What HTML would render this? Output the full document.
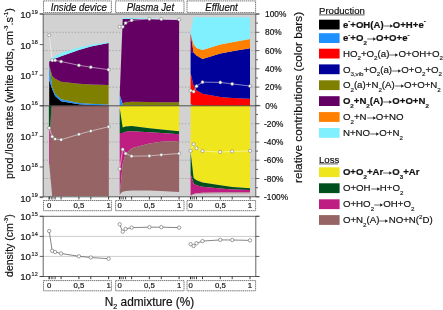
<!DOCTYPE html>
<html><head><meta charset="utf-8"><title>chart</title>
<style>
html,body{margin:0;padding:0;background:#fff;}
body{width:443px;height:310px;overflow:hidden;position:relative;font-family:"Liberation Sans", sans-serif;}
#wrap{position:absolute;left:0;top:0;width:443px;height:310px;will-change:transform;transform:translateZ(0);}
svg.main{display:block;position:absolute;left:0;top:0;}
.lg{position:absolute;white-space:nowrap;font-size:9.7px;line-height:12px;height:12px;color:#111;-webkit-text-stroke:0.18px #111;}
.lg.b{font-weight:bold;font-size:9.6px;}
.lg sub{font-size:6.2px;vertical-align:baseline;position:relative;top:3.6px;line-height:0;color:#333;}
.lg sup{font-size:6.2px;vertical-align:baseline;position:relative;top:-4.4px;line-height:0;color:#333;}
.lg svg.ar{display:inline-block;vertical-align:baseline;position:relative;top:1.0px;margin:0;}
</style>
</head><body>
<div id="wrap">
<svg class="main" width="443" height="310" viewBox="0 0 443 310" font-family='"Liberation Sans", sans-serif'>
<rect x="0" y="0" width="443" height="310" fill="#fff"/>
<rect x="43.2" y="14.0" width="212.6" height="182.8" fill="#D2D2D2"/>
<line x1="43.2" y1="32.3" x2="255.8" y2="32.3" stroke="#a0a0a0" stroke-width="0.8" stroke-dasharray="1.5,1.65"/>
<line x1="43.2" y1="50.6" x2="255.8" y2="50.6" stroke="#a0a0a0" stroke-width="0.8" stroke-dasharray="1.5,1.65"/>
<line x1="43.2" y1="68.8" x2="255.8" y2="68.8" stroke="#a0a0a0" stroke-width="0.8" stroke-dasharray="1.5,1.65"/>
<line x1="43.2" y1="87.1" x2="255.8" y2="87.1" stroke="#a0a0a0" stroke-width="0.8" stroke-dasharray="1.5,1.65"/>
<line x1="43.2" y1="123.7" x2="255.8" y2="123.7" stroke="#a0a0a0" stroke-width="0.8" stroke-dasharray="1.5,1.65"/>
<line x1="43.2" y1="142.0" x2="255.8" y2="142.0" stroke="#a0a0a0" stroke-width="0.8" stroke-dasharray="1.5,1.65"/>
<line x1="43.2" y1="160.2" x2="255.8" y2="160.2" stroke="#a0a0a0" stroke-width="0.8" stroke-dasharray="1.5,1.65"/>
<line x1="43.2" y1="178.5" x2="255.8" y2="178.5" stroke="#a0a0a0" stroke-width="0.8" stroke-dasharray="1.5,1.65"/>
<polygon points="49.2,80.0 52.2,89.0 55.1,96.0 61.1,101.3 78.9,104.3 90.8,104.9 108.6,105.4 108.6,105.8 90.8,105.8 78.9,105.8 61.1,105.8 55.1,105.8 52.2,105.8 49.2,105.8" fill="#000000"/>
<polygon points="49.2,65.5 52.2,86.6 55.1,93.8 61.1,99.2 78.9,102.9 90.8,103.8 108.6,104.6 108.6,105.4 90.8,104.9 78.9,104.3 61.1,101.3 55.1,96.0 52.2,89.0 49.2,80.0" fill="#1E90FF"/>
<polygon points="49.2,65.5 52.2,75.8 55.1,78.8 61.1,81.8 78.9,83.8 90.8,84.4 108.6,85.0 108.6,104.6 90.8,103.8 78.9,102.9 61.1,99.2 55.1,93.8 52.2,86.6 49.2,65.5" fill="#808000"/>
<polygon points="49.2,61.6 52.2,59.8 55.1,58.4 61.1,56.2 78.9,50.0 90.8,46.5 108.6,43.0 108.6,85.0 90.8,84.4 78.9,83.8 61.1,81.8 55.1,78.8 52.2,75.8 49.2,65.5" fill="#640064"/>
<polygon points="49.2,61.0 52.2,58.0 55.1,56.0 61.1,53.0 78.9,47.4 90.8,44.8 108.6,42.3 108.6,43.0 90.8,46.5 78.9,50.0 61.1,56.2 55.1,58.4 52.2,59.8 49.2,61.6" fill="#80F0FF"/>
<polygon points="49.2,105.8 52.2,105.8 52.2,196.0 108.6,196.0 108.6,105.8" fill="#966464"/>
<polygon points="49.2,164.0 52.2,196.0 108.6,196.0 108.6,105.8 51.4,105.8 50.2,128.0" fill="#966464"/>
<polygon points="48.9,105.8 51.6,105.8 50.2,128.0 48.9,128.0" fill="#00501E"/>
<polygon points="49.2,128.0 50.2,128.0 49.8,164.0 49.2,164.0" fill="#BE1E82"/>
<polygon points="119.7,94.8 122.7,104.9 125.6,105.2 131.6,105.3 149.4,105.4 161.3,105.4 179.1,105.4 179.1,105.8 161.3,105.8 149.4,105.8 131.6,105.8 125.6,105.8 122.7,105.8 119.7,105.8" fill="#1E90FF"/>
<polygon points="119.7,94.8 122.7,103.5 125.6,102.3 131.6,101.8 149.4,102.0 161.3,102.2 179.1,102.3 179.1,105.4 161.3,105.4 149.4,105.4 131.6,105.3 125.6,105.2 122.7,104.9 119.7,94.8" fill="#808000"/>
<polygon points="119.7,94.8 122.7,18.9 125.6,18.9 131.6,18.9 149.4,19.0 161.3,19.3 179.1,19.8 179.1,102.3 161.3,102.2 149.4,102.0 131.6,101.8 125.6,102.3 122.7,103.5 119.7,94.8" fill="#640064"/>
<polygon points="119.7,94.8 122.7,17.9 125.6,17.9 131.6,17.9 149.4,18.2 161.3,19.0 179.1,19.8 179.1,19.8 161.3,19.3 149.4,19.0 131.6,18.9 125.6,18.9 122.7,18.9 119.7,94.8" fill="#80F0FF"/>
<polygon points="119.7,108.0 121.2,118.0 122.7,127.5 125.6,126.6 131.6,126.1 149.4,128.2 161.3,129.4 179.1,131.2 179.1,105.8 161.3,105.8 149.4,105.8 131.6,105.8 125.6,105.8 122.7,105.8 121.2,105.8 119.7,105.8" fill="#F0E61E"/>
<polygon points="119.7,133.0 121.2,133.0 122.7,133.0 125.6,131.8 131.6,131.2 149.4,132.3 161.3,133.0 179.1,134.2 179.1,131.2 161.3,129.4 149.4,128.2 131.6,126.1 125.6,126.6 122.7,127.5 121.2,118.0 119.7,108.0" fill="#00501E"/>
<polygon points="119.7,192.5 121.2,180.0 122.7,163.5 125.6,153.9 131.6,148.2 149.4,143.6 161.3,141.8 179.1,141.0 179.1,134.2 161.3,133.0 149.4,132.3 131.6,131.2 125.6,131.8 122.7,133.0 121.2,133.0 119.7,133.0" fill="#BE1E82"/>
<polygon points="119.7,194.7 121.2,192.8 122.7,191.8 125.6,190.9 131.6,190.5 149.4,190.5 161.3,191.0 179.1,192.0 179.1,141.0 161.3,141.8 149.4,143.6 131.6,148.2 125.6,153.9 122.7,163.5 121.2,180.0 119.7,192.5" fill="#966464"/>
<polygon points="190.6,104.0 193.6,105.4 196.5,105.6 202.5,105.7 220.3,105.7 232.2,105.7 250.0,105.7 250.0,105.8 232.2,105.8 220.3,105.8 202.5,105.8 196.5,105.8 193.6,105.8 190.6,105.8" fill="#1E90FF"/>
<polygon points="190.6,73.0 193.6,85.7 196.5,90.2 202.5,93.8 220.3,96.9 232.2,98.0 250.0,98.7 250.0,105.7 232.2,105.7 220.3,105.7 202.5,105.7 196.5,105.6 193.6,105.4 190.6,104.0" fill="#FF0000"/>
<polygon points="190.6,52.0 193.6,52.4 196.5,55.5 202.5,59.0 220.3,53.6 232.2,51.3 250.0,48.3 250.0,98.7 232.2,98.0 220.3,96.9 202.5,93.8 196.5,90.2 193.6,85.7 190.6,73.0" fill="#00009B"/>
<polygon points="190.6,33.6 193.6,52.4 196.5,55.5 202.5,59.0 220.3,53.6 232.2,51.3 250.0,48.3 250.0,48.3 232.2,51.3 220.3,53.6 202.5,59.0 196.5,55.5 193.6,52.4 190.6,52.0" fill="#640064"/>
<polygon points="190.6,33.0 193.6,44.3 196.5,48.0 202.5,50.0 220.3,44.6 232.2,42.2 250.0,38.9 250.0,48.3 232.2,51.3 220.3,53.6 202.5,59.0 196.5,55.5 193.6,52.4 190.6,33.6" fill="#FF8000"/>
<polygon points="190.6,32.6 193.6,17.2 196.5,17.2 202.5,17.2 220.3,17.2 232.2,17.2 250.0,17.2 250.0,38.9 232.2,42.2 220.3,44.6 202.5,50.0 196.5,48.0 193.6,44.3 190.6,33.0" fill="#80F0FF"/>
<polygon points="190.6,152.0 193.6,178.0 196.5,180.2 202.5,182.4 220.3,185.2 232.2,187.0 250.0,188.3 250.0,105.8 232.2,105.8 220.3,105.8 202.5,105.8 196.5,105.8 193.6,105.8 190.6,105.8" fill="#F0E61E"/>
<polygon points="190.6,174.0 193.6,183.5 196.5,185.2 202.5,186.8 220.3,188.4 232.2,189.4 250.0,190.0 250.0,188.3 232.2,187.0 220.3,185.2 202.5,182.4 196.5,180.2 193.6,178.0 190.6,152.0" fill="#00501E"/>
<polygon points="190.6,195.6 193.6,194.0 196.5,193.2 202.5,192.7 220.3,192.5 232.2,192.4 250.0,192.4 250.0,190.0 232.2,189.4 220.3,188.4 202.5,186.8 196.5,185.2 193.6,183.5 190.6,174.0" fill="#BE1E82"/>
<polygon points="190.6,195.6 193.6,194.6 196.5,194.1 202.5,193.7 220.3,193.5 232.2,193.4 250.0,193.4 250.0,192.4 232.2,192.4 220.3,192.5 202.5,192.7 196.5,193.2 193.6,194.0 190.6,195.6" fill="#b89a9a"/>
<line x1="39.7" y1="105.8" x2="260.4" y2="105.8" stroke="#303030" stroke-width="0.8"/>
<polyline points="49.2,35.2 52.2,60.3 55.1,60.3 61.1,61.5 78.9,65.3 90.8,67.2 108.6,69.7" fill="none" stroke="#ffffff" stroke-width="0.6" stroke-opacity="0.85"/>
<circle cx="49.2" cy="35.2" r="1.6" fill="#ffffff" stroke="#666666" stroke-width="0.5"/>
<circle cx="52.2" cy="60.3" r="1.6" fill="#ffffff" stroke="#666666" stroke-width="0.5"/>
<circle cx="55.1" cy="60.3" r="1.6" fill="#ffffff" stroke="#666666" stroke-width="0.5"/>
<circle cx="61.1" cy="61.5" r="1.6" fill="#ffffff" stroke="#666666" stroke-width="0.5"/>
<circle cx="78.9" cy="65.3" r="1.6" fill="#ffffff" stroke="#666666" stroke-width="0.5"/>
<circle cx="90.8" cy="67.2" r="1.6" fill="#ffffff" stroke="#666666" stroke-width="0.5"/>
<circle cx="108.6" cy="69.7" r="1.6" fill="#ffffff" stroke="#666666" stroke-width="0.5"/>
<polyline points="49.2,128.0 52.2,136.6 55.1,139.0 61.1,139.7 78.9,134.3 90.8,131.0 108.6,126.8" fill="none" stroke="#ffffff" stroke-width="0.6" stroke-opacity="0.85"/>
<circle cx="49.2" cy="128.0" r="1.6" fill="#ffffff" stroke="#666666" stroke-width="0.5"/>
<circle cx="52.2" cy="136.6" r="1.6" fill="#ffffff" stroke="#666666" stroke-width="0.5"/>
<circle cx="55.1" cy="139.0" r="1.6" fill="#ffffff" stroke="#666666" stroke-width="0.5"/>
<circle cx="61.1" cy="139.7" r="1.6" fill="#ffffff" stroke="#666666" stroke-width="0.5"/>
<circle cx="78.9" cy="134.3" r="1.6" fill="#ffffff" stroke="#666666" stroke-width="0.5"/>
<circle cx="90.8" cy="131.0" r="1.6" fill="#ffffff" stroke="#666666" stroke-width="0.5"/>
<circle cx="108.6" cy="126.8" r="1.6" fill="#ffffff" stroke="#666666" stroke-width="0.5"/>
<polyline points="119.7,26.8 122.7,26.8 125.6,23.0 131.6,20.3 149.4,18.9 161.3,19.1 179.1,19.6" fill="none" stroke="#ffffff" stroke-width="0.6" stroke-opacity="0.85"/>
<circle cx="119.7" cy="26.8" r="1.6" fill="#ffffff" stroke="#666666" stroke-width="0.5"/>
<circle cx="122.7" cy="26.8" r="1.6" fill="#ffffff" stroke="#666666" stroke-width="0.5"/>
<circle cx="125.6" cy="23.0" r="1.6" fill="#ffffff" stroke="#666666" stroke-width="0.5"/>
<circle cx="131.6" cy="20.3" r="1.6" fill="#ffffff" stroke="#666666" stroke-width="0.5"/>
<circle cx="149.4" cy="18.9" r="1.6" fill="#ffffff" stroke="#666666" stroke-width="0.5"/>
<circle cx="161.3" cy="19.1" r="1.6" fill="#ffffff" stroke="#666666" stroke-width="0.5"/>
<circle cx="179.1" cy="19.6" r="1.6" fill="#ffffff" stroke="#666666" stroke-width="0.5"/>
<polyline points="119.7,168.9 122.7,149.4 125.6,153.5 131.6,156.2 149.4,155.9 161.3,154.8 179.1,153.5" fill="none" stroke="#ffffff" stroke-width="0.6" stroke-opacity="0.85"/>
<circle cx="119.7" cy="168.9" r="1.6" fill="#ffffff" stroke="#666666" stroke-width="0.5"/>
<circle cx="122.7" cy="149.4" r="1.6" fill="#ffffff" stroke="#666666" stroke-width="0.5"/>
<circle cx="125.6" cy="153.5" r="1.6" fill="#ffffff" stroke="#666666" stroke-width="0.5"/>
<circle cx="131.6" cy="156.2" r="1.6" fill="#ffffff" stroke="#666666" stroke-width="0.5"/>
<circle cx="149.4" cy="155.9" r="1.6" fill="#ffffff" stroke="#666666" stroke-width="0.5"/>
<circle cx="161.3" cy="154.8" r="1.6" fill="#ffffff" stroke="#666666" stroke-width="0.5"/>
<circle cx="179.1" cy="153.5" r="1.6" fill="#ffffff" stroke="#666666" stroke-width="0.5"/>
<polyline points="190.6,90.6 193.6,91.6 196.5,86.2 202.5,82.1 220.3,82.4 232.2,83.9 250.0,86.0" fill="none" stroke="#ffffff" stroke-width="0.6" stroke-opacity="0.85"/>
<circle cx="190.6" cy="90.6" r="1.6" fill="#ffffff" stroke="#666666" stroke-width="0.5"/>
<circle cx="193.6" cy="91.6" r="1.6" fill="#ffffff" stroke="#666666" stroke-width="0.5"/>
<circle cx="196.5" cy="86.2" r="1.6" fill="#ffffff" stroke="#666666" stroke-width="0.5"/>
<circle cx="202.5" cy="82.1" r="1.6" fill="#ffffff" stroke="#666666" stroke-width="0.5"/>
<circle cx="220.3" cy="82.4" r="1.6" fill="#ffffff" stroke="#666666" stroke-width="0.5"/>
<circle cx="232.2" cy="83.9" r="1.6" fill="#ffffff" stroke="#666666" stroke-width="0.5"/>
<circle cx="250.0" cy="86.0" r="1.6" fill="#ffffff" stroke="#666666" stroke-width="0.5"/>
<polyline points="190.6,150.9 193.6,144.2 196.5,148.2 202.5,151.1 220.3,152.0 232.2,151.4 250.0,150.9" fill="none" stroke="#ffffff" stroke-width="0.6" stroke-opacity="0.85"/>
<circle cx="190.6" cy="150.9" r="1.6" fill="#ffffff" stroke="#666666" stroke-width="0.5"/>
<circle cx="193.6" cy="144.2" r="1.6" fill="#ffffff" stroke="#666666" stroke-width="0.5"/>
<circle cx="196.5" cy="148.2" r="1.6" fill="#ffffff" stroke="#666666" stroke-width="0.5"/>
<circle cx="202.5" cy="151.1" r="1.6" fill="#ffffff" stroke="#666666" stroke-width="0.5"/>
<circle cx="220.3" cy="152.0" r="1.6" fill="#ffffff" stroke="#666666" stroke-width="0.5"/>
<circle cx="232.2" cy="151.4" r="1.6" fill="#ffffff" stroke="#666666" stroke-width="0.5"/>
<circle cx="250.0" cy="150.9" r="1.6" fill="#ffffff" stroke="#666666" stroke-width="0.5"/>
<line x1="39.7" y1="14.0" x2="259.4" y2="14.0" stroke="#3c3c3c" stroke-width="0.8"/>
<line x1="39.7" y1="196.8" x2="259.4" y2="196.8" stroke="#3c3c3c" stroke-width="0.8"/>
<line x1="43.2" y1="14.0" x2="43.2" y2="196.8" stroke="#3c3c3c" stroke-width="0.8"/>
<line x1="255.8" y1="14.0" x2="255.8" y2="196.8" stroke="#3c3c3c" stroke-width="0.8"/>
<line x1="39.7" y1="14.0" x2="43.2" y2="14.0" stroke="#3c3c3c" stroke-width="0.8"/>
<line x1="39.7" y1="44.6" x2="43.2" y2="44.6" stroke="#3c3c3c" stroke-width="0.8"/>
<line x1="39.7" y1="75.2" x2="43.2" y2="75.2" stroke="#3c3c3c" stroke-width="0.8"/>
<line x1="39.7" y1="105.8" x2="43.2" y2="105.8" stroke="#3c3c3c" stroke-width="0.8"/>
<line x1="39.7" y1="136.4" x2="43.2" y2="136.4" stroke="#3c3c3c" stroke-width="0.8"/>
<line x1="39.7" y1="167.0" x2="43.2" y2="167.0" stroke="#3c3c3c" stroke-width="0.8"/>
<line x1="39.7" y1="197.6" x2="43.2" y2="197.6" stroke="#3c3c3c" stroke-width="0.8"/>
<line x1="255.8" y1="14.0" x2="259.4" y2="14.0" stroke="#3c3c3c" stroke-width="0.8"/>
<line x1="255.8" y1="32.3" x2="259.4" y2="32.3" stroke="#3c3c3c" stroke-width="0.8"/>
<line x1="255.8" y1="50.6" x2="259.4" y2="50.6" stroke="#3c3c3c" stroke-width="0.8"/>
<line x1="255.8" y1="68.8" x2="259.4" y2="68.8" stroke="#3c3c3c" stroke-width="0.8"/>
<line x1="255.8" y1="87.1" x2="259.4" y2="87.1" stroke="#3c3c3c" stroke-width="0.8"/>
<line x1="255.8" y1="105.4" x2="259.4" y2="105.4" stroke="#3c3c3c" stroke-width="0.8"/>
<line x1="255.8" y1="123.7" x2="259.4" y2="123.7" stroke="#3c3c3c" stroke-width="0.8"/>
<line x1="255.8" y1="142.0" x2="259.4" y2="142.0" stroke="#3c3c3c" stroke-width="0.8"/>
<line x1="255.8" y1="160.2" x2="259.4" y2="160.2" stroke="#3c3c3c" stroke-width="0.8"/>
<line x1="255.8" y1="178.5" x2="259.4" y2="178.5" stroke="#3c3c3c" stroke-width="0.8"/>
<line x1="255.8" y1="196.8" x2="259.4" y2="196.8" stroke="#3c3c3c" stroke-width="0.8"/>
<line x1="255.8" y1="23.1" x2="258.0" y2="23.1" stroke="#3c3c3c" stroke-width="0.8"/>
<line x1="255.8" y1="41.4" x2="258.0" y2="41.4" stroke="#3c3c3c" stroke-width="0.8"/>
<line x1="255.8" y1="59.7" x2="258.0" y2="59.7" stroke="#3c3c3c" stroke-width="0.8"/>
<line x1="255.8" y1="78.0" x2="258.0" y2="78.0" stroke="#3c3c3c" stroke-width="0.8"/>
<line x1="255.8" y1="96.3" x2="258.0" y2="96.3" stroke="#3c3c3c" stroke-width="0.8"/>
<line x1="255.8" y1="114.5" x2="258.0" y2="114.5" stroke="#3c3c3c" stroke-width="0.8"/>
<line x1="255.8" y1="132.8" x2="258.0" y2="132.8" stroke="#3c3c3c" stroke-width="0.8"/>
<line x1="255.8" y1="151.1" x2="258.0" y2="151.1" stroke="#3c3c3c" stroke-width="0.8"/>
<line x1="255.8" y1="169.4" x2="258.0" y2="169.4" stroke="#3c3c3c" stroke-width="0.8"/>
<line x1="255.8" y1="187.7" x2="258.0" y2="187.7" stroke="#3c3c3c" stroke-width="0.8"/>
<line x1="49.2" y1="196.8" x2="49.2" y2="199.5" stroke="#2a2a2a" stroke-width="1.3"/>
<line x1="51.3" y1="196.8" x2="51.3" y2="199.5" stroke="#2a2a2a" stroke-width="0.7"/>
<line x1="52.9" y1="196.8" x2="52.9" y2="199.5" stroke="#2a2a2a" stroke-width="0.7"/>
<line x1="55.1" y1="196.8" x2="55.1" y2="199.5" stroke="#2a2a2a" stroke-width="0.9"/>
<line x1="61.1" y1="196.8" x2="61.1" y2="199.5" stroke="#2a2a2a" stroke-width="0.9"/>
<line x1="78.9" y1="196.8" x2="78.9" y2="199.5" stroke="#2a2a2a" stroke-width="0.9"/>
<line x1="90.8" y1="196.8" x2="90.8" y2="199.5" stroke="#2a2a2a" stroke-width="0.9"/>
<line x1="108.6" y1="196.8" x2="108.6" y2="199.5" stroke="#2a2a2a" stroke-width="0.9"/>
<line x1="119.7" y1="196.8" x2="119.7" y2="199.5" stroke="#2a2a2a" stroke-width="1.3"/>
<line x1="121.8" y1="196.8" x2="121.8" y2="199.5" stroke="#2a2a2a" stroke-width="0.7"/>
<line x1="123.4" y1="196.8" x2="123.4" y2="199.5" stroke="#2a2a2a" stroke-width="0.7"/>
<line x1="125.6" y1="196.8" x2="125.6" y2="199.5" stroke="#2a2a2a" stroke-width="0.9"/>
<line x1="131.6" y1="196.8" x2="131.6" y2="199.5" stroke="#2a2a2a" stroke-width="0.9"/>
<line x1="149.4" y1="196.8" x2="149.4" y2="199.5" stroke="#2a2a2a" stroke-width="0.9"/>
<line x1="161.3" y1="196.8" x2="161.3" y2="199.5" stroke="#2a2a2a" stroke-width="0.9"/>
<line x1="179.1" y1="196.8" x2="179.1" y2="199.5" stroke="#2a2a2a" stroke-width="0.9"/>
<line x1="190.6" y1="196.8" x2="190.6" y2="199.5" stroke="#2a2a2a" stroke-width="1.3"/>
<line x1="192.7" y1="196.8" x2="192.7" y2="199.5" stroke="#2a2a2a" stroke-width="0.7"/>
<line x1="194.3" y1="196.8" x2="194.3" y2="199.5" stroke="#2a2a2a" stroke-width="0.7"/>
<line x1="196.5" y1="196.8" x2="196.5" y2="199.5" stroke="#2a2a2a" stroke-width="0.9"/>
<line x1="202.5" y1="196.8" x2="202.5" y2="199.5" stroke="#2a2a2a" stroke-width="0.9"/>
<line x1="220.3" y1="196.8" x2="220.3" y2="199.5" stroke="#2a2a2a" stroke-width="0.9"/>
<line x1="232.2" y1="196.8" x2="232.2" y2="199.5" stroke="#2a2a2a" stroke-width="0.9"/>
<line x1="250.0" y1="196.8" x2="250.0" y2="199.5" stroke="#2a2a2a" stroke-width="0.9"/>
<rect x="43.2" y="216.3" width="212.6" height="60.2" fill="#fff" stroke="none"/>
<line x1="43.2" y1="236.4" x2="255.8" y2="236.4" stroke="#b8b8b8" stroke-width="0.7"/>
<line x1="43.2" y1="256.4" x2="255.8" y2="256.4" stroke="#b8b8b8" stroke-width="0.7"/>
<line x1="39.7" y1="216.3" x2="259.4" y2="216.3" stroke="#3c3c3c" stroke-width="0.8"/>
<line x1="39.7" y1="276.5" x2="259.4" y2="276.5" stroke="#3c3c3c" stroke-width="0.8"/>
<line x1="43.2" y1="216.3" x2="43.2" y2="276.5" stroke="#3c3c3c" stroke-width="0.8"/>
<line x1="255.8" y1="216.3" x2="255.8" y2="276.5" stroke="#3c3c3c" stroke-width="0.8"/>
<line x1="39.7" y1="216.3" x2="43.2" y2="216.3" stroke="#3c3c3c" stroke-width="0.8"/>
<line x1="255.8" y1="216.3" x2="259.4" y2="216.3" stroke="#3c3c3c" stroke-width="0.8"/>
<line x1="39.7" y1="236.4" x2="43.2" y2="236.4" stroke="#3c3c3c" stroke-width="0.8"/>
<line x1="255.8" y1="236.4" x2="259.4" y2="236.4" stroke="#3c3c3c" stroke-width="0.8"/>
<line x1="39.7" y1="256.4" x2="43.2" y2="256.4" stroke="#3c3c3c" stroke-width="0.8"/>
<line x1="255.8" y1="256.4" x2="259.4" y2="256.4" stroke="#3c3c3c" stroke-width="0.8"/>
<line x1="39.7" y1="276.5" x2="43.2" y2="276.5" stroke="#3c3c3c" stroke-width="0.8"/>
<line x1="255.8" y1="276.5" x2="259.4" y2="276.5" stroke="#3c3c3c" stroke-width="0.8"/>
<line x1="49.2" y1="276.5" x2="49.2" y2="279.2" stroke="#2a2a2a" stroke-width="1.3"/>
<line x1="51.3" y1="276.5" x2="51.3" y2="279.2" stroke="#2a2a2a" stroke-width="0.7"/>
<line x1="52.9" y1="276.5" x2="52.9" y2="279.2" stroke="#2a2a2a" stroke-width="0.7"/>
<line x1="55.1" y1="276.5" x2="55.1" y2="279.2" stroke="#2a2a2a" stroke-width="0.9"/>
<line x1="61.1" y1="276.5" x2="61.1" y2="279.2" stroke="#2a2a2a" stroke-width="0.9"/>
<line x1="78.9" y1="276.5" x2="78.9" y2="279.2" stroke="#2a2a2a" stroke-width="0.9"/>
<line x1="90.8" y1="276.5" x2="90.8" y2="279.2" stroke="#2a2a2a" stroke-width="0.9"/>
<line x1="108.6" y1="276.5" x2="108.6" y2="279.2" stroke="#2a2a2a" stroke-width="0.9"/>
<line x1="119.7" y1="276.5" x2="119.7" y2="279.2" stroke="#2a2a2a" stroke-width="1.3"/>
<line x1="121.8" y1="276.5" x2="121.8" y2="279.2" stroke="#2a2a2a" stroke-width="0.7"/>
<line x1="123.4" y1="276.5" x2="123.4" y2="279.2" stroke="#2a2a2a" stroke-width="0.7"/>
<line x1="125.6" y1="276.5" x2="125.6" y2="279.2" stroke="#2a2a2a" stroke-width="0.9"/>
<line x1="131.6" y1="276.5" x2="131.6" y2="279.2" stroke="#2a2a2a" stroke-width="0.9"/>
<line x1="149.4" y1="276.5" x2="149.4" y2="279.2" stroke="#2a2a2a" stroke-width="0.9"/>
<line x1="161.3" y1="276.5" x2="161.3" y2="279.2" stroke="#2a2a2a" stroke-width="0.9"/>
<line x1="179.1" y1="276.5" x2="179.1" y2="279.2" stroke="#2a2a2a" stroke-width="0.9"/>
<line x1="190.6" y1="276.5" x2="190.6" y2="279.2" stroke="#2a2a2a" stroke-width="1.3"/>
<line x1="192.7" y1="276.5" x2="192.7" y2="279.2" stroke="#2a2a2a" stroke-width="0.7"/>
<line x1="194.3" y1="276.5" x2="194.3" y2="279.2" stroke="#2a2a2a" stroke-width="0.7"/>
<line x1="196.5" y1="276.5" x2="196.5" y2="279.2" stroke="#2a2a2a" stroke-width="0.9"/>
<line x1="202.5" y1="276.5" x2="202.5" y2="279.2" stroke="#2a2a2a" stroke-width="0.9"/>
<line x1="220.3" y1="276.5" x2="220.3" y2="279.2" stroke="#2a2a2a" stroke-width="0.9"/>
<line x1="232.2" y1="276.5" x2="232.2" y2="279.2" stroke="#2a2a2a" stroke-width="0.9"/>
<line x1="250.0" y1="276.5" x2="250.0" y2="279.2" stroke="#2a2a2a" stroke-width="0.9"/>
<polyline points="49.2,231.0 52.2,250.8 55.1,252.0 61.1,253.5 78.9,256.3 90.8,257.5 108.6,258.7" fill="none" stroke="#505050" stroke-width="0.7"/>
<circle cx="49.2" cy="231.0" r="1.7" fill="#ffffff" stroke="#606060" stroke-width="0.6"/>
<circle cx="52.2" cy="250.8" r="1.7" fill="#ffffff" stroke="#606060" stroke-width="0.6"/>
<circle cx="55.1" cy="252.0" r="1.7" fill="#ffffff" stroke="#606060" stroke-width="0.6"/>
<circle cx="61.1" cy="253.5" r="1.7" fill="#ffffff" stroke="#606060" stroke-width="0.6"/>
<circle cx="78.9" cy="256.3" r="1.7" fill="#ffffff" stroke="#606060" stroke-width="0.6"/>
<circle cx="90.8" cy="257.5" r="1.7" fill="#ffffff" stroke="#606060" stroke-width="0.6"/>
<circle cx="108.6" cy="258.7" r="1.7" fill="#ffffff" stroke="#606060" stroke-width="0.6"/>
<polyline points="119.7,224.3 122.7,231.7 125.6,229.0 131.6,227.6 149.4,227.2 161.3,227.2 179.1,227.6" fill="none" stroke="#505050" stroke-width="0.7"/>
<circle cx="119.7" cy="224.3" r="1.7" fill="#ffffff" stroke="#606060" stroke-width="0.6"/>
<circle cx="122.7" cy="231.7" r="1.7" fill="#ffffff" stroke="#606060" stroke-width="0.6"/>
<circle cx="125.6" cy="229.0" r="1.7" fill="#ffffff" stroke="#606060" stroke-width="0.6"/>
<circle cx="131.6" cy="227.6" r="1.7" fill="#ffffff" stroke="#606060" stroke-width="0.6"/>
<circle cx="149.4" cy="227.2" r="1.7" fill="#ffffff" stroke="#606060" stroke-width="0.6"/>
<circle cx="161.3" cy="227.2" r="1.7" fill="#ffffff" stroke="#606060" stroke-width="0.6"/>
<circle cx="179.1" cy="227.6" r="1.7" fill="#ffffff" stroke="#606060" stroke-width="0.6"/>
<polyline points="190.6,244.2 193.6,246.0 196.5,243.3 202.5,241.1 220.3,239.9 232.2,240.0 250.0,240.4" fill="none" stroke="#505050" stroke-width="0.7"/>
<circle cx="190.6" cy="244.2" r="1.7" fill="#ffffff" stroke="#606060" stroke-width="0.6"/>
<circle cx="193.6" cy="246.0" r="1.7" fill="#ffffff" stroke="#606060" stroke-width="0.6"/>
<circle cx="196.5" cy="243.3" r="1.7" fill="#ffffff" stroke="#606060" stroke-width="0.6"/>
<circle cx="202.5" cy="241.1" r="1.7" fill="#ffffff" stroke="#606060" stroke-width="0.6"/>
<circle cx="220.3" cy="239.9" r="1.7" fill="#ffffff" stroke="#606060" stroke-width="0.6"/>
<circle cx="232.2" cy="240.0" r="1.7" fill="#ffffff" stroke="#606060" stroke-width="0.6"/>
<circle cx="250.0" cy="240.4" r="1.7" fill="#ffffff" stroke="#606060" stroke-width="0.6"/>
<rect x="43.5" y="0.9" width="67.9" height="11.7" fill="#fff" stroke="#555" stroke-width="0.8" stroke-dasharray="1.5,0.6"/>
<g transform="translate(78.85,10.70) scale(0.960,1)"><text x="0" y="0" font-size="10.00" text-anchor="middle" fill="#111" stroke="#111" stroke-width="0.18" font-style="italic">Inside device</text></g>
<rect x="115.6" y="0.9" width="68.4" height="11.7" fill="#fff" stroke="#555" stroke-width="0.8" stroke-dasharray="1.5,0.6"/>
<g transform="translate(150.40,10.70) scale(0.960,1)"><text x="0" y="0" font-size="10.00" text-anchor="middle" fill="#111" stroke="#111" stroke-width="0.18" font-style="italic">Plasma Jet</text></g>
<rect x="187.0" y="0.9" width="68.6" height="11.7" fill="#fff" stroke="#555" stroke-width="0.8" stroke-dasharray="1.5,0.6"/>
<g transform="translate(221.50,10.70) scale(0.960,1)"><text x="0" y="0" font-size="10.00" text-anchor="middle" fill="#111" stroke="#111" stroke-width="0.18" font-style="italic">Effluent</text></g>
<rect x="43.5" y="200.5" width="67.9" height="10.2" fill="#fff" stroke="#555" stroke-width="0.8" stroke-dasharray="1.5,0.6"/>
<g transform="translate(49.20,208.20) scale(1.000,1)"><text x="0" y="0" font-size="7.80" text-anchor="middle" fill="#111" stroke="#111" stroke-width="0.18">0</text></g>
<g transform="translate(78.90,208.20) scale(1.000,1)"><text x="0" y="0" font-size="7.80" text-anchor="middle" fill="#111" stroke="#111" stroke-width="0.18">0,5</text></g>
<g transform="translate(108.60,208.20) scale(1.000,1)"><text x="0" y="0" font-size="7.80" text-anchor="middle" fill="#111" stroke="#111" stroke-width="0.18">1</text></g>
<rect x="115.6" y="200.5" width="68.4" height="10.2" fill="#fff" stroke="#555" stroke-width="0.8" stroke-dasharray="1.5,0.6"/>
<g transform="translate(119.70,208.20) scale(1.000,1)"><text x="0" y="0" font-size="7.80" text-anchor="middle" fill="#111" stroke="#111" stroke-width="0.18">0</text></g>
<g transform="translate(149.40,208.20) scale(1.000,1)"><text x="0" y="0" font-size="7.80" text-anchor="middle" fill="#111" stroke="#111" stroke-width="0.18">0,5</text></g>
<g transform="translate(179.10,208.20) scale(1.000,1)"><text x="0" y="0" font-size="7.80" text-anchor="middle" fill="#111" stroke="#111" stroke-width="0.18">1</text></g>
<rect x="187.0" y="200.5" width="68.6" height="10.2" fill="#fff" stroke="#555" stroke-width="0.8" stroke-dasharray="1.5,0.6"/>
<g transform="translate(190.60,208.20) scale(1.000,1)"><text x="0" y="0" font-size="7.80" text-anchor="middle" fill="#111" stroke="#111" stroke-width="0.18">0</text></g>
<g transform="translate(220.30,208.20) scale(1.000,1)"><text x="0" y="0" font-size="7.80" text-anchor="middle" fill="#111" stroke="#111" stroke-width="0.18">0,5</text></g>
<g transform="translate(250.00,208.20) scale(1.000,1)"><text x="0" y="0" font-size="7.80" text-anchor="middle" fill="#111" stroke="#111" stroke-width="0.18">1</text></g>
<rect x="43.5" y="280.6" width="67.9" height="10.2" fill="#fff" stroke="#555" stroke-width="0.8" stroke-dasharray="1.5,0.6"/>
<g transform="translate(49.20,288.30) scale(1.000,1)"><text x="0" y="0" font-size="7.80" text-anchor="middle" fill="#111" stroke="#111" stroke-width="0.18">0</text></g>
<g transform="translate(78.90,288.30) scale(1.000,1)"><text x="0" y="0" font-size="7.80" text-anchor="middle" fill="#111" stroke="#111" stroke-width="0.18">0,5</text></g>
<g transform="translate(108.60,288.30) scale(1.000,1)"><text x="0" y="0" font-size="7.80" text-anchor="middle" fill="#111" stroke="#111" stroke-width="0.18">1</text></g>
<rect x="115.6" y="280.6" width="68.4" height="10.2" fill="#fff" stroke="#555" stroke-width="0.8" stroke-dasharray="1.5,0.6"/>
<g transform="translate(119.70,288.30) scale(1.000,1)"><text x="0" y="0" font-size="7.80" text-anchor="middle" fill="#111" stroke="#111" stroke-width="0.18">0</text></g>
<g transform="translate(149.40,288.30) scale(1.000,1)"><text x="0" y="0" font-size="7.80" text-anchor="middle" fill="#111" stroke="#111" stroke-width="0.18">0,5</text></g>
<g transform="translate(179.10,288.30) scale(1.000,1)"><text x="0" y="0" font-size="7.80" text-anchor="middle" fill="#111" stroke="#111" stroke-width="0.18">1</text></g>
<rect x="187.0" y="280.6" width="68.6" height="10.2" fill="#fff" stroke="#555" stroke-width="0.8" stroke-dasharray="1.5,0.6"/>
<g transform="translate(190.60,288.30) scale(1.000,1)"><text x="0" y="0" font-size="7.80" text-anchor="middle" fill="#111" stroke="#111" stroke-width="0.18">0</text></g>
<g transform="translate(220.30,288.30) scale(1.000,1)"><text x="0" y="0" font-size="7.80" text-anchor="middle" fill="#111" stroke="#111" stroke-width="0.18">0,5</text></g>
<g transform="translate(250.00,288.30) scale(1.000,1)"><text x="0" y="0" font-size="7.80" text-anchor="middle" fill="#111" stroke="#111" stroke-width="0.18">1</text></g>
<g transform="translate(20.20,17.90) scale(1.000,1)"><text x="0" y="0" font-size="9.70" text-anchor="start" fill="#111" stroke="#111" stroke-width="0.18">10<tspan dy="-4.4" dx="0.6" font-size="5.5" fill="#333">19</tspan></text></g>
<g transform="translate(20.20,48.50) scale(1.000,1)"><text x="0" y="0" font-size="9.70" text-anchor="start" fill="#111" stroke="#111" stroke-width="0.18">10<tspan dy="-4.4" dx="0.6" font-size="5.5" fill="#333">18</tspan></text></g>
<g transform="translate(20.20,79.10) scale(1.000,1)"><text x="0" y="0" font-size="9.70" text-anchor="start" fill="#111" stroke="#111" stroke-width="0.18">10<tspan dy="-4.4" dx="0.6" font-size="5.5" fill="#333">17</tspan></text></g>
<g transform="translate(20.20,109.70) scale(1.000,1)"><text x="0" y="0" font-size="9.70" text-anchor="start" fill="#111" stroke="#111" stroke-width="0.18">10<tspan dy="-4.4" dx="0.6" font-size="5.5" fill="#333">16</tspan></text></g>
<g transform="translate(20.20,140.30) scale(1.000,1)"><text x="0" y="0" font-size="9.70" text-anchor="start" fill="#111" stroke="#111" stroke-width="0.18">10<tspan dy="-4.4" dx="0.6" font-size="5.5" fill="#333">17</tspan></text></g>
<g transform="translate(20.20,170.90) scale(1.000,1)"><text x="0" y="0" font-size="9.70" text-anchor="start" fill="#111" stroke="#111" stroke-width="0.18">10<tspan dy="-4.4" dx="0.6" font-size="5.5" fill="#333">18</tspan></text></g>
<g transform="translate(20.20,201.50) scale(1.000,1)"><text x="0" y="0" font-size="9.70" text-anchor="start" fill="#111" stroke="#111" stroke-width="0.18">10<tspan dy="-4.4" dx="0.6" font-size="5.5" fill="#333">19</tspan></text></g>
<g transform="translate(20.20,220.00) scale(1.000,1)"><text x="0" y="0" font-size="9.70" text-anchor="start" fill="#111" stroke="#111" stroke-width="0.18">10<tspan dy="-4.4" dx="0.6" font-size="5.5" fill="#333">15</tspan></text></g>
<g transform="translate(20.20,240.07) scale(1.000,1)"><text x="0" y="0" font-size="9.70" text-anchor="start" fill="#111" stroke="#111" stroke-width="0.18">10<tspan dy="-4.4" dx="0.6" font-size="5.5" fill="#333">14</tspan></text></g>
<g transform="translate(20.20,260.13) scale(1.000,1)"><text x="0" y="0" font-size="9.70" text-anchor="start" fill="#111" stroke="#111" stroke-width="0.18">10<tspan dy="-4.4" dx="0.6" font-size="5.5" fill="#333">13</tspan></text></g>
<g transform="translate(20.20,280.20) scale(1.000,1)"><text x="0" y="0" font-size="9.70" text-anchor="start" fill="#111" stroke="#111" stroke-width="0.18">10<tspan dy="-4.4" dx="0.6" font-size="5.5" fill="#333">12</tspan></text></g>
<g transform="translate(265.10,17.20) scale(1.000,1)"><text x="0" y="0" font-size="8.30" text-anchor="start" fill="#111" stroke="#111" stroke-width="0.18">100%</text></g>
<g transform="translate(265.10,35.48) scale(1.000,1)"><text x="0" y="0" font-size="8.30" text-anchor="start" fill="#111" stroke="#111" stroke-width="0.18">80%</text></g>
<g transform="translate(265.10,53.76) scale(1.000,1)"><text x="0" y="0" font-size="8.30" text-anchor="start" fill="#111" stroke="#111" stroke-width="0.18">60%</text></g>
<g transform="translate(265.10,72.04) scale(1.000,1)"><text x="0" y="0" font-size="8.30" text-anchor="start" fill="#111" stroke="#111" stroke-width="0.18">40%</text></g>
<g transform="translate(265.10,90.32) scale(1.000,1)"><text x="0" y="0" font-size="8.30" text-anchor="start" fill="#111" stroke="#111" stroke-width="0.18">20%</text></g>
<g transform="translate(265.30,108.60) scale(1.000,1)"><text x="0" y="0" font-size="8.30" text-anchor="start" fill="#111" stroke="#111" stroke-width="0.18">0%</text></g>
<g transform="translate(264.10,126.88) scale(1.000,1)"><text x="0" y="0" font-size="8.30" text-anchor="start" fill="#111" stroke="#111" stroke-width="0.18">-20%</text></g>
<g transform="translate(264.10,145.16) scale(1.000,1)"><text x="0" y="0" font-size="8.30" text-anchor="start" fill="#111" stroke="#111" stroke-width="0.18">-40%</text></g>
<g transform="translate(264.10,163.44) scale(1.000,1)"><text x="0" y="0" font-size="8.30" text-anchor="start" fill="#111" stroke="#111" stroke-width="0.18">-60%</text></g>
<g transform="translate(264.10,181.72) scale(1.000,1)"><text x="0" y="0" font-size="8.30" text-anchor="start" fill="#111" stroke="#111" stroke-width="0.18">-80%</text></g>
<g transform="translate(264.10,200.00) scale(1.000,1)"><text x="0" y="0" font-size="8.30" text-anchor="start" fill="#111" stroke="#111" stroke-width="0.18">-100%</text></g>
<g transform="translate(12.90,179.00) rotate(-90) scale(1.000,1)"><text x="0" y="0" font-size="10.70" text-anchor="start" fill="#111" stroke="#111" stroke-width="0.18">prod./loss rates (white dots, cm<tspan dy="-4.6" font-size="6.2">-3</tspan><tspan dy="4.6">.s</tspan><tspan dy="-4.6" font-size="6.2">-1</tspan><tspan dy="4.6">)</tspan></text></g>
<g transform="translate(13.00,276.90) rotate(-90) scale(1.000,1)"><text x="0" y="0" font-size="10.50" text-anchor="start" fill="#111" stroke="#111" stroke-width="0.18">density (cm<tspan dy="-4.6" font-size="6.2">-3</tspan><tspan dy="4.6">)</tspan></text></g>
<g transform="translate(301.50,183.00) rotate(-90) scale(1.000,1)"><text x="0" y="0" font-size="11.80" text-anchor="start" fill="#111" stroke="#111" stroke-width="0.18">relative contributions (color bars)</text></g>
<g transform="translate(104.80,305.50) scale(1.000,1)"><text x="0" y="0" font-size="11.85" text-anchor="start" fill="#111" stroke="#111" stroke-width="0.18">N<tspan dy="3.6" font-size="7">2</tspan><tspan dy="-3.6"> admixture (%)</tspan></text></g>
<g transform="translate(319.00,13.60) scale(1.000,1)"><text x="0" y="0" font-size="9.60" text-anchor="start" fill="#111" stroke="#111" stroke-width="0.18">Production</text></g>
<line x1="319.0" y1="14.9" x2="364.6" y2="14.9" stroke="#111" stroke-width="0.7"/>
<g transform="translate(319.00,162.60) scale(1.000,1)"><text x="0" y="0" font-size="9.60" text-anchor="start" fill="#111" stroke="#111" stroke-width="0.18">Loss</text></g>
<line x1="319.0" y1="163.9" x2="338.0" y2="163.9" stroke="#111" stroke-width="0.7"/>
<rect x="319.0" y="19.7" width="20.6" height="9.8" fill="#000000"/>
<rect x="319.0" y="33.2" width="20.6" height="9.8" fill="#1E90FF"/>
<rect x="319.0" y="48.7" width="20.6" height="9.8" fill="#FF0000"/>
<rect x="319.0" y="64.4" width="20.6" height="9.8" fill="#00009B"/>
<rect x="319.0" y="80.3" width="20.6" height="9.8" fill="#808000"/>
<rect x="319.0" y="96.2" width="20.6" height="9.8" fill="#640064"/>
<rect x="319.0" y="112.1" width="20.6" height="9.8" fill="#FF8000"/>
<rect x="319.0" y="128.0" width="20.6" height="9.8" fill="#80F0FF"/>
<rect x="319.0" y="167.3" width="20.6" height="9.8" fill="#F0E61E"/>
<rect x="319.0" y="183.3" width="20.6" height="9.8" fill="#00501E"/>
<rect x="319.0" y="199.3" width="20.6" height="9.8" fill="#BE1E82"/>
<rect x="319.0" y="215.1" width="20.6" height="9.8" fill="#966464"/>
</svg>
<div class="lg b" style="left:342.9px;top:18.8px">e<sup>-</sup>+OH(A)<svg class="ar" width="9.2" height="6" viewBox="0 0 9.2 6"><path d="M0.2 3H8.4" stroke="#222" stroke-width="0.7" fill="none"/><path d="M6.2 1.3L8.9 3L6.2 4.7Z" stroke="none" fill="#222"/></svg>O+H+e<sup>-</sup></div>
<div class="lg b" style="left:342.9px;top:32.3px">e<sup>-</sup>+O<sub>2</sub><svg class="ar" width="9.2" height="6" viewBox="0 0 9.2 6"><path d="M0.2 3H8.4" stroke="#222" stroke-width="0.7" fill="none"/><path d="M6.2 1.3L8.9 3L6.2 4.7Z" stroke="none" fill="#222"/></svg>O+O+e<sup>-</sup></div>
<div class="lg" style="left:342.9px;top:47.8px">HO<sub>2</sub>+O<sub>2</sub>(a)<svg class="ar" width="9.2" height="6" viewBox="0 0 9.2 6"><path d="M0.2 3H8.4" stroke="#222" stroke-width="0.7" fill="none"/><path d="M6.2 1.3L8.9 3L6.2 4.7Z" stroke="none" fill="#222"/></svg>O+OH+O<sub>2</sub></div>
<div class="lg" style="left:342.9px;top:63.5px">O<sub>3,vib</sub>+O<sub>2</sub>(a)<svg class="ar" width="9.2" height="6" viewBox="0 0 9.2 6"><path d="M0.2 3H8.4" stroke="#222" stroke-width="0.7" fill="none"/><path d="M6.2 1.3L8.9 3L6.2 4.7Z" stroke="none" fill="#222"/></svg>O+O<sub>2</sub>+O<sub>2</sub></div>
<div class="lg" style="left:342.9px;top:79.4px">O<sub>2</sub>(a)+N<sub>2</sub>(A)<svg class="ar" width="9.2" height="6" viewBox="0 0 9.2 6"><path d="M0.2 3H8.4" stroke="#222" stroke-width="0.7" fill="none"/><path d="M6.2 1.3L8.9 3L6.2 4.7Z" stroke="none" fill="#222"/></svg>O+O+N<sub>2</sub></div>
<div class="lg b" style="left:342.9px;top:95.3px">O<sub>2</sub>+N<sub>2</sub>(A)<svg class="ar" width="9.2" height="6" viewBox="0 0 9.2 6"><path d="M0.2 3H8.4" stroke="#222" stroke-width="0.7" fill="none"/><path d="M6.2 1.3L8.9 3L6.2 4.7Z" stroke="none" fill="#222"/></svg>O+O+N<sub>2</sub></div>
<div class="lg" style="left:342.9px;top:111.2px">O<sub>2</sub>+N<svg class="ar" width="9.2" height="6" viewBox="0 0 9.2 6"><path d="M0.2 3H8.4" stroke="#222" stroke-width="0.7" fill="none"/><path d="M6.2 1.3L8.9 3L6.2 4.7Z" stroke="none" fill="#222"/></svg>O+NO</div>
<div class="lg" style="left:342.9px;top:127.1px">N+NO<svg class="ar" width="9.2" height="6" viewBox="0 0 9.2 6"><path d="M0.2 3H8.4" stroke="#222" stroke-width="0.7" fill="none"/><path d="M6.2 1.3L8.9 3L6.2 4.7Z" stroke="none" fill="#222"/></svg>O+N<sub>2</sub></div>
<div class="lg b" style="left:342.9px;top:166.4px">O+O<sub>2</sub>+Ar<svg class="ar" width="9.2" height="6" viewBox="0 0 9.2 6"><path d="M0.2 3H8.4" stroke="#222" stroke-width="0.7" fill="none"/><path d="M6.2 1.3L8.9 3L6.2 4.7Z" stroke="none" fill="#222"/></svg>O<sub>3</sub>+Ar</div>
<div class="lg" style="left:342.9px;top:182.4px">O+OH<svg class="ar" width="9.2" height="6" viewBox="0 0 9.2 6"><path d="M0.2 3H8.4" stroke="#222" stroke-width="0.7" fill="none"/><path d="M6.2 1.3L8.9 3L6.2 4.7Z" stroke="none" fill="#222"/></svg>H+O<sub>2</sub></div>
<div class="lg" style="left:342.9px;top:198.4px">O+HO<sub>2</sub><svg class="ar" width="9.2" height="6" viewBox="0 0 9.2 6"><path d="M0.2 3H8.4" stroke="#222" stroke-width="0.7" fill="none"/><path d="M6.2 1.3L8.9 3L6.2 4.7Z" stroke="none" fill="#222"/></svg>OH+O<sub>2</sub></div>
<div class="lg" style="left:342.9px;top:214.2px">O+N<sub>2</sub>(A)<svg class="ar" width="9.2" height="6" viewBox="0 0 9.2 6"><path d="M0.2 3H8.4" stroke="#222" stroke-width="0.7" fill="none"/><path d="M6.2 1.3L8.9 3L6.2 4.7Z" stroke="none" fill="#222"/></svg>NO+N(<sup>2</sup>D)</div>
</div>
</body></html>
